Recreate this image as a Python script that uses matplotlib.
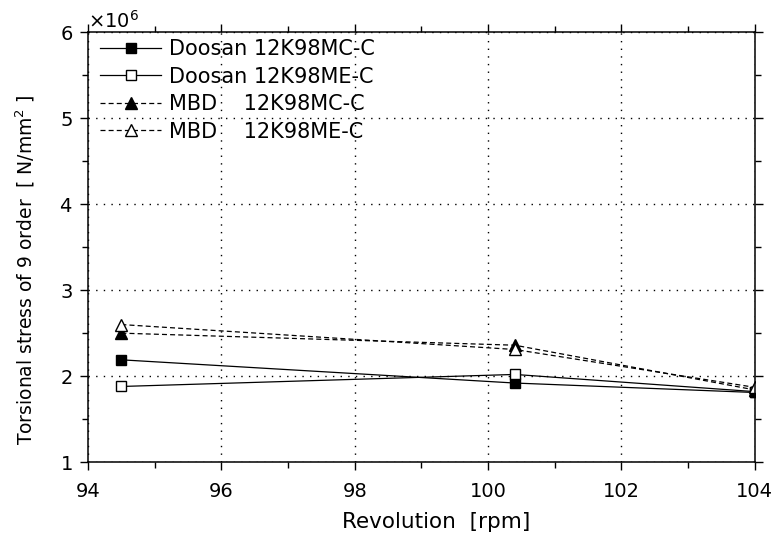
import matplotlib
matplotlib.use("Agg")
import matplotlib.pyplot as plt
from matplotlib.ticker import MultipleLocator

plt.rcParams['font.family'] = ['DejaVu Sans']
plt.rcParams['mathtext.fontset'] = 'dejavusans'

rpm = [94.5, 100.4, 104.0]
doosan_mc = [2.19e6, 1.92e6, 1.81e6]
doosan_me = [1.88e6, 2.02e6, 1.82e6]
mbd_mc = [2.50e6, 2.36e6, 1.84e6]
mbd_me = [2.60e6, 2.31e6, 1.87e6]
labels = ["Doosan 12K98MC-C", "Doosan 12K98ME-C", "MBD    12K98MC-C", "MBD    12K98ME-C"]

fig = plt.figure(figsize=(7.79, 5.45), dpi=100)
ax = fig.add_axes([0.113, 0.152, 0.856, 0.789])

lw = 0.9
ms = 7
ax.plot(rpm, doosan_mc, '-', color='black', lw=lw, marker='s', ms=ms,
        mfc='black', mec='black', label=labels[0])
ax.plot(rpm, doosan_me, '-', color='black', lw=lw, marker='s', ms=ms,
        mfc='white', mec='black', label=labels[1])
ax.plot(rpm, mbd_mc, '--', color='black', lw=lw, marker='^', ms=ms + 1,
        mfc='black', mec='black', label=labels[2], dashes=(4, 2.5))
ax.plot(rpm, mbd_me, '--', color='black', lw=lw, marker='^', ms=ms + 1,
        mfc='white', mec='black', label=labels[3], dashes=(4, 2.5))

ax.set_xlim(94, 104)
ax.set_ylim(1e6, 6e6)
ax.xaxis.set_major_locator(MultipleLocator(2))
ax.xaxis.set_minor_locator(MultipleLocator(1))
ax.yaxis.set_major_locator(MultipleLocator(1e6))
ax.yaxis.set_minor_locator(MultipleLocator(0.5e6))
ax.ticklabel_format(axis='y', style='sci', scilimits=(0, 0), useMathText=True)
ax.yaxis.get_offset_text().set_fontsize(14)

ax.grid(True, which='major', linestyle=(0, (1, 4.5)), color='black', lw=1.0)

ax.tick_params(which='both', direction='out', labelsize=14, width=1,
               top=True, right=True)
ax.tick_params(which='major', length=6)
ax.tick_params(axis='x', which='major', pad=8)
ax.tick_params(axis='y', which='major', pad=5)
ax.tick_params(which='minor', length=4)
for s in ax.spines.values():
    s.set_linewidth(1.1)

ax.set_xlabel("Revolution  [rpm]", fontsize=15.5)
ax.set_ylabel("Torsional stress of 9 order  [ N/mm$^2$ ]", fontsize=13.5)
ax.xaxis.set_label_coords(0.522, -0.115)
ax.yaxis.set_label_coords(-0.077, 0.447)

leg = ax.legend(loc='upper left', bbox_to_anchor=(0.006, 1.003), frameon=False,
                fontsize=15, handlelength=2.9, handletextpad=0.4,
                labelspacing=0.36, borderaxespad=0.0)

fig.savefig("out.png", dpi=100)
